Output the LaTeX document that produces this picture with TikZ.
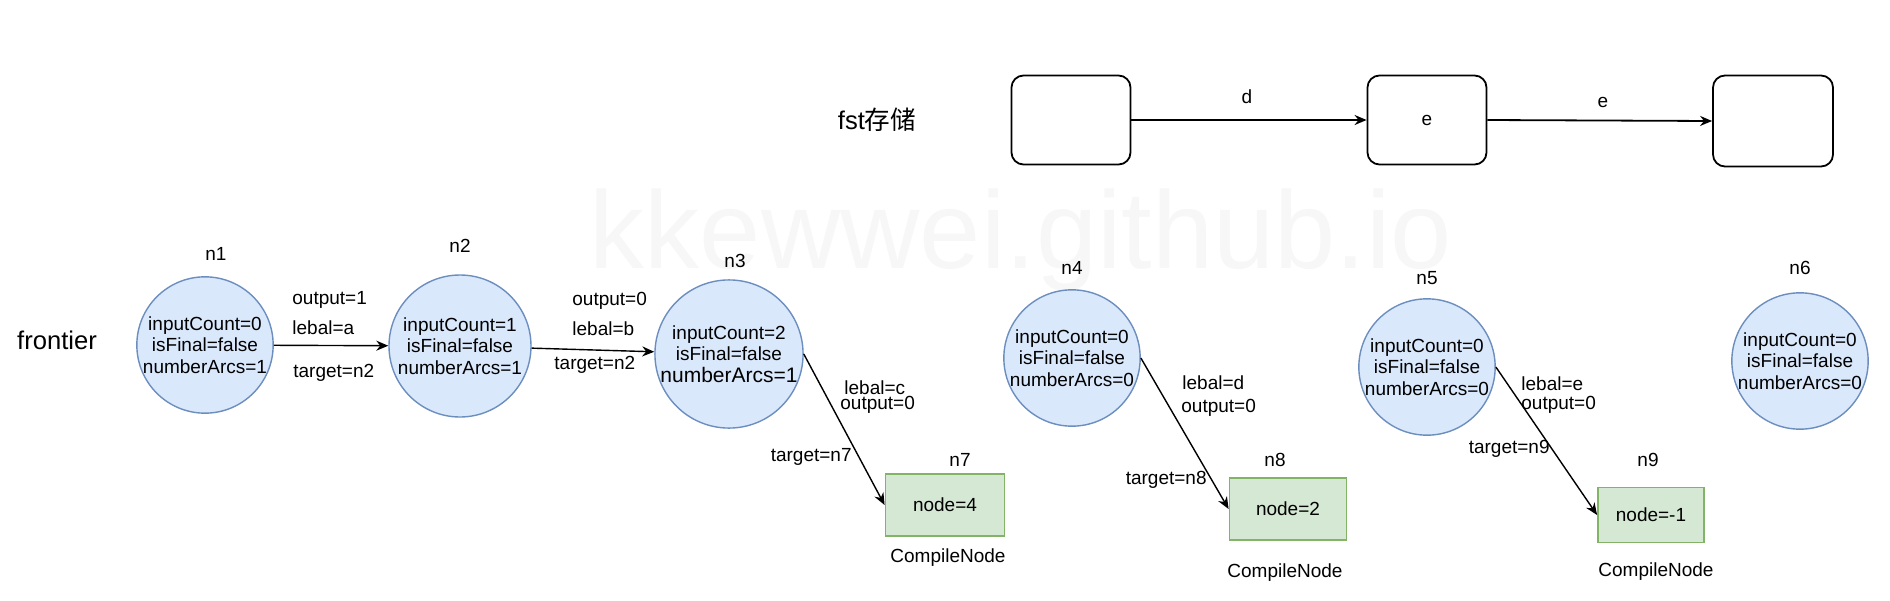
\documentclass[tikz,border=0pt]{standalone}
\usepackage{fontspec}
\setmainfont{Liberation Sans}
\newfontfamily\cjk{Noto Sans CJK SC}
\usetikzlibrary{arrows.meta}
\definecolor{stfill}{HTML}{DAE8FC}
\definecolor{stline}{HTML}{6C8EBF}
\definecolor{cnfill}{HTML}{D5E8D4}
\definecolor{cnline}{HTML}{82B366}
\begin{document}
\begin{tikzpicture}[x=0.5pt,y=-0.5pt,
		every node/.style={inner sep=0pt,font=\fontsize{9.5}{10.75}\selectfont},
		stnode/.style={circle,draw=stline,line width=0.7pt,fill=stfill,align=center},
		cnode/.style={rectangle,draw=cnline,line width=0.9pt,fill=cnfill},
		fstbox/.style={rectangle,rounded corners=6pt,draw,line width=0.9pt,minimum width=59.5pt,minimum height=44.5pt},
		arc/.style={-{Stealth[length=6pt,width=5pt]},line width=0.7pt},
		big/.style={font=\fontsize{12.8}{14}\selectfont}]
		\useasboundingbox (0,0) rectangle (1890,600);
		\node[font=\fontsize{55}{60}\selectfont,text=gray!6,anchor=base] (wm) at (1021,268) {kkewwei.github.io};
		\node[big] (fst) at (877,120) {fst\cjk 存储};
		\node[fstbox] (f1) at (1071,120) {};
		\node[fstbox] (f2) at (1427,120) {e};
		\node[fstbox,minimum width=60pt,minimum height=45.5pt] (f3) at (1773,121) {};
		\draw[arc,line width=0.9pt] (f1) -- (f2);
		\node (fd) at (1247,97) {d};
		\draw[arc,line width=0.9pt] (f2.east) -- (f3.west);
		\node (fe) at (1603,102) {e};
		\node[big] (fr) at (57,340) {frontier};
		\node[stnode,minimum size=68pt] (n1) at (205,345) {inputCount=0\\isFinal=false\\numberArcs=1};
		\node[stnode,minimum size=71pt] (n2) at (460,346) {inputCount=1\\isFinal=false\\numberArcs=1};
		\node[stnode,minimum size=70pt] (n3) at (729,354) {inputCount=2\\isFinal=false\\{\fontsize{10.5}{11}\selectfont numberArcs=1}};
		\node[stnode,minimum size=66pt] (n4) at (1072,358) {inputCount=0\\isFinal=false\\numberArcs=0};
		\node[stnode,minimum size=66pt] (n5) at (1427,367) {inputCount=0\\isFinal=false\\numberArcs=0};
		\node[stnode,minimum size=66pt] (n6) at (1800,361) {inputCount=0\\isFinal=false\\numberArcs=0};
		\node (t1) at (216,254) {n1};
		\node (t2) at (460,246) {n2};
		\node (t3) at (735,261) {n3};
		\node (t4) at (1072,268) {n4};
		\node (t5) at (1427,278) {n5};
		\node (t6) at (1800,268) {n6};
		\node[cnode,minimum width=59.5pt,minimum height=31pt] (n7) at (945,505) {node=4};
		\node[cnode,minimum width=58.5pt,minimum height=31pt] (n8) at (1288,509) {node=2};
		\node[cnode,minimum width=53pt,minimum height=27.5pt] (n9) at (1651,515) {node=-1};
		\node (t7) at (960,460) {n7};
		\node (t8) at (1275,460) {n8};
		\node (t9) at (1648,460) {n9};
		\node (c7) at (948,558) {CompileNode};
		\node (c8) at (1285,573) {CompileNode};
		\node (c9) at (1656,572) {CompileNode};
		\draw[arc] (n1) -- (n2);
		\node[anchor=west] (o1) at (292,300) {output=1};
		\node[anchor=west] (l1) at (292,328) {lebal=a};
		\node[anchor=west] (g1) at (293,373) {target=n2};
		\draw[arc] (n2) -- (n3);
		\node[anchor=west] (o2) at (572,301) {output=0};
		\node[anchor=west] (l2) at (572,329) {lebal=b};
		\node[anchor=west] (g2) at (554,365) {target=n2};
		\draw[arc] (n3.east) -- (n7.west);
		\node[anchor=west] (l3) at (844,388) {lebal=c};
		\node[anchor=west] (o3) at (840,405) {output=0};
		\node[anchor=east] (g3) at (852,457) {target=n7};
		\draw[arc] (n4.east) -- (n8.west);
		\node[anchor=west] (l4) at (1182,383) {lebal=d};
		\node[anchor=west] (o4) at (1181,408) {output=0};
		\node[anchor=east] (g4) at (1207,480) {target=n8};
		\draw[arc] (n5.east) -- (n9.west);
		\node[anchor=west] (l5) at (1521,384) {lebal=e};
		\node[anchor=west] (o5) at (1521,405) {output=0};
		\node[anchor=east] (g5) at (1550,449) {target=n9};
\end{tikzpicture}
\end{document}
